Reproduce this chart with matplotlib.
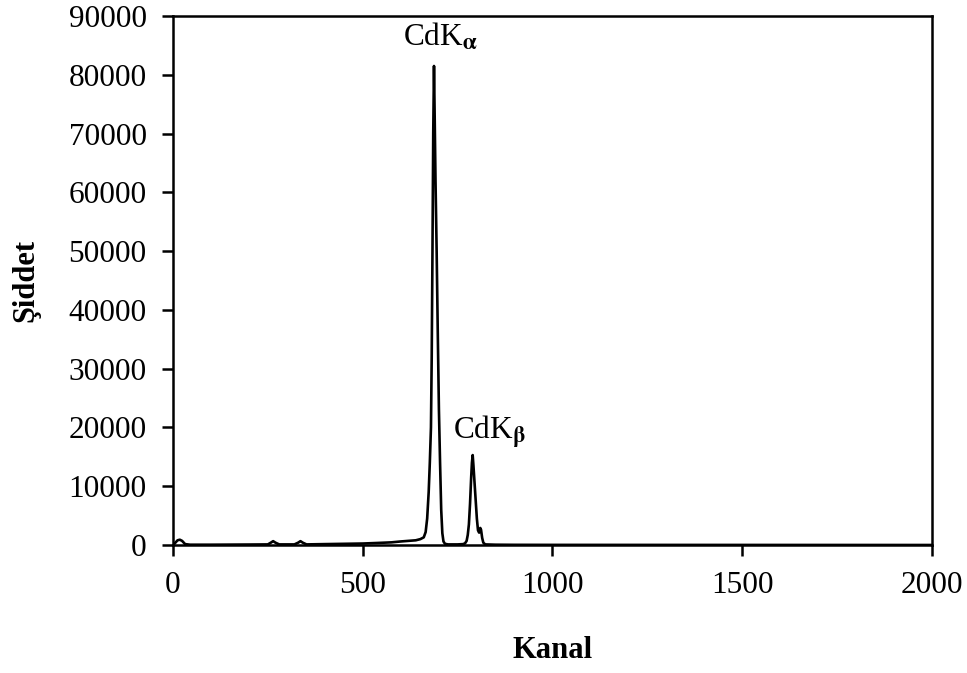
import matplotlib
matplotlib.use("Agg")
import matplotlib.pyplot as plt

# spectrum (channel, counts)
channels = [0, 5, 12, 18, 24, 32, 45, 100, 200, 250, 258, 264, 270, 280, 320, 330, 336, 342, 352,
            400, 450, 500, 540, 576, 600, 620, 640, 652, 661, 666, 670, 674, 677, 680, 682, 684,
            686, 688, 690, 692, 695, 698, 701, 704, 707, 710, 713, 717, 725, 750, 765, 770, 774,
            777, 780, 783, 786, 788, 790, 792, 795, 798, 801, 804, 807, 810, 812, 815, 818, 823,
            850, 900, 1000, 1500, 2000]
counts = [0, 300, 800, 900, 700, 150, 50, 50, 80, 100, 400, 650, 400, 100, 100, 400, 650, 400, 100,
          150, 200, 250, 350, 450, 600, 700, 800, 1000, 1300, 2200, 4500, 9000, 14000, 20000, 32000, 50000,
          70000, 81500, 72000, 62000, 50000, 36000, 23000, 14000, 6000, 2000, 600, 200, 100, 100, 150, 300, 700,
          1700, 3500, 7000, 11500, 14000, 15300, 13500, 10500, 7500, 4500, 2500, 2100, 2900, 2600, 1200, 400, 100,
          50, 30, 20, 10, 0]

peak_labels = [r'CdK$_{\mathbf{\alpha}}$', r'CdK$_{\mathbf{\beta}}$']
peak_label_x = [606, 738]
peak_label_y = [86400, 19100]

x_ticks = [0, 500, 1000, 1500, 2000]
y_ticks = [0, 10000, 20000, 30000, 40000, 50000, 60000, 70000, 80000, 90000]

plt.rcParams['font.family'] = ['Liberation Serif', 'DejaVu Serif']
plt.rcParams['mathtext.fontset'] = 'stix'

fig = plt.figure(figsize=(9.67, 6.73), dpi=100)
ax = fig.add_axes([0.1789, 0.1902, 0.7846, 0.786])

ax.plot(channels, counts, color='black', lw=1.9, solid_joinstyle='round')

for lab, lx, ly in zip(peak_labels, peak_label_x, peak_label_y):
    ax.text(lx, ly, lab, fontsize=22.5, ha='left', va='center', color='black')

ax.set_xlim(0, 2000)
ax.set_ylim(0, 90000)
ax.set_xticks(x_ticks)
ax.set_yticks(y_ticks)
ax.set_xticklabels([str(v) for v in x_ticks])
ax.set_yticklabels([str(v) for v in y_ticks])
ax.tick_params(axis='both', direction='out', length=8, width=1.8, labelsize=22.5, color='black')
ax.tick_params(axis='y', pad=11)
ax.tick_params(axis='x', pad=11)
for s in ax.spines.values():
    s.set_linewidth(1.8)
    s.set_color('black')

ax.set_xlabel('Kanal', fontsize=22, fontweight='bold', labelpad=26)
ax.set_ylabel('Şiddet', fontsize=22, fontweight='bold', labelpad=20)

fig.savefig('out.png', dpi=100)
